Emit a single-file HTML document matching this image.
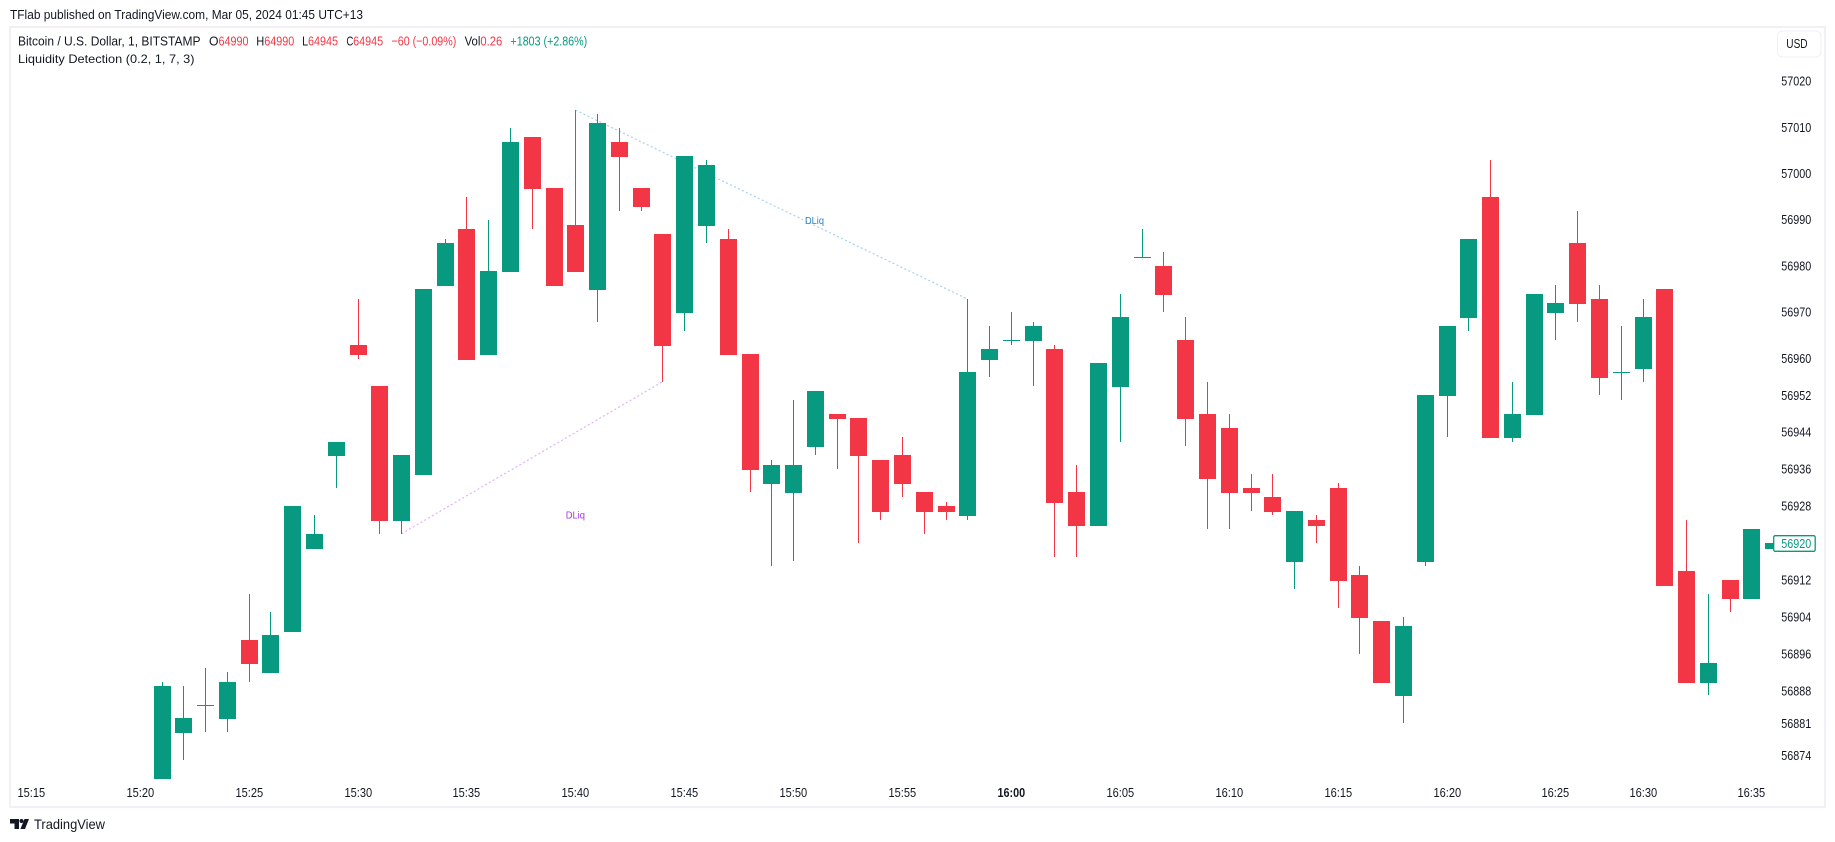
<!DOCTYPE html>
<html lang="en">
<head>
<meta charset="utf-8">
<title>Bitcoin / U.S. Dollar chart</title>
<style>
html,body{margin:0;padding:0;background:#fff;width:1835px;height:842px;overflow:hidden}
svg{display:block;position:absolute;left:0;top:0}
text{font-family:"Liberation Sans",sans-serif;font-size:13px;fill:#131722}
.red{fill:#f23645}
.grn{fill:#089981}
</style>
</head>
<body>
<svg id="chart" width="1835" height="842" viewBox="0 0 1835 842" xmlns="http://www.w3.org/2000/svg">
  <text x="10" y="19" textLength="353" lengthAdjust="spacingAndGlyphs">TFlab published on TradingView.com, Mar 05, 2024 01:45 UTC+13</text>
  <rect x="10" y="27" width="1815" height="780" fill="#fff" stroke="#f0f0f6" stroke-width="2"/>
  <g id="lines"></g>
  <g id="candles"></g>
  <g id="yaxis"></g>
  <g id="xaxis"></g>

  <g>
    <text x="18" y="45.7" textLength="182.5" lengthAdjust="spacingAndGlyphs">Bitcoin / U.S. Dollar, 1, BITSTAMP</text>
    <text x="209" y="45.7" textLength="9.5" lengthAdjust="spacingAndGlyphs">O</text>
    <text class="red" x="218.5" y="45.7" textLength="30" lengthAdjust="spacingAndGlyphs">64990</text>
    <text x="256.3" y="45.7" textLength="8" lengthAdjust="spacingAndGlyphs">H</text>
    <text class="red" x="264.3" y="45.7" textLength="30" lengthAdjust="spacingAndGlyphs">64990</text>
    <text x="302.1" y="45.7" textLength="6" lengthAdjust="spacingAndGlyphs">L</text>
    <text class="red" x="308" y="45.7" textLength="30" lengthAdjust="spacingAndGlyphs">64945</text>
    <text x="346.4" y="45.7" textLength="7" lengthAdjust="spacingAndGlyphs">C</text>
    <text class="red" x="353.1" y="45.7" textLength="30" lengthAdjust="spacingAndGlyphs">64945</text>
    <text class="red" x="391.5" y="45.7" textLength="64.8" lengthAdjust="spacingAndGlyphs">−60 (−0.09%)</text>
    <text x="464.6" y="45.7" textLength="15.8" lengthAdjust="spacingAndGlyphs">Vol</text>
    <text class="red" x="480.4" y="45.7" textLength="21.8" lengthAdjust="spacingAndGlyphs">0.26</text>
    <text class="grn" x="510.5" y="45.7" textLength="76.7" lengthAdjust="spacingAndGlyphs">+1803 (+2.86%)</text>
  </g>
  <text x="18" y="63" style="font-size:12px" textLength="176.5" lengthAdjust="spacingAndGlyphs">Liquidity Detection (0.2, 1, 7, 3)</text>

  <g>
    <rect x="1777.5" y="31" width="43.5" height="26" rx="5" fill="#fff" stroke="#f0f0f6" stroke-width="1"/>
    <text x="1786.3" y="48" textLength="21.3" lengthAdjust="spacingAndGlyphs">USD</text>
  </g>

  <text x="805" y="224" style="font-size:10px;fill:#2a82c2" textLength="19" lengthAdjust="spacingAndGlyphs">DLiq</text>
  <text x="565.7" y="518.5" style="font-size:10px;fill:#a832e6" textLength="19.3" lengthAdjust="spacingAndGlyphs">DLiq</text>

  <g>
    <rect x="1773.7" y="535.7" width="41.5" height="15.6" rx="1.5" fill="#fff" stroke="#089981" stroke-width="1.3"/>
    <text class="grn" x="1781.3" y="548" textLength="30" lengthAdjust="spacingAndGlyphs">56920</text>
  </g>

  <g>
    <path d="M10 819h9v10h-4.5v-5.5H10z" fill="#131722"/>
    <circle cx="21.5" cy="821" r="2" fill="#131722"/>
    <path d="M24.5 819H29l-4 10h-4.6z" fill="#131722"/>
    <text x="34" y="829" style="font-size:14px" textLength="71" lengthAdjust="spacingAndGlyphs">TradingView</text>
  </g>
</svg>

<script>
const open = [56868.9,56878.9,56884.8,56881.9,56899.0,56891.9,56900.7,56918.7,56938.8,56962.9,
56954.0,56924.8,56934.7,56975.6,56988.0,56960.7,56978.7,57007.9,56996.8,56988.8,
56974.8,57006.8,56996.8,56986.9,56969.8,56988.6,56985.8,56960.9,56932.8,56930.8,
56940.8,56947.9,56947.1,56938.0,56939.1,56931.0,56928.0,56925.8,56959.6,56963.7,
56963.7,56962.0,56931.0,56923.7,56953.8,56981.8,56980.0,56963.9,56947.9,56944.9,
56931.9,56930.0,56915.9,56925.0,56931.9,56913.1,56903.1,56886.9,56915.9,56951.8,
56968.7,56994.9,56942.7,56947.7,56969.8,56984.9,56972.8,56956.9,56957.7,56975.0,
56913.9,56889.7,56912.0,56907.9,56918.7];

const high = [56889.9,56889.0,56892.9,56892.1,56909.0,56905.1,56928.0,56926.1,56941.9,56972.8,
56954.0,56939.1,56975.0,56985.8,56994.9,56989.9,57009.8,57007.9,56996.8,57013.7,
57012.9,57009.8,56996.8,56986.9,57003.8,57002.9,56988.0,56960.9,56938.0,56951.0,
56952.9,56947.9,56947.1,56938.0,56942.9,56931.0,56928.9,56972.8,56967.0,56970.0,
56967.8,56962.9,56936.9,56959.0,56973.9,56988.0,56983.0,56968.9,56954.9,56947.9,
56934.9,56934.9,56926.9,56926.1,56933.0,56915.0,56903.1,56904.0,56952.0,56967.0,
56985.8,57002.9,56954.9,56973.9,56975.8,56991.9,56975.8,56967.0,56972.8,56975.0,
56925.0,56909.0,56912.0,56923.0,56920.0];

const low = [56868.9,56873.0,56879.1,56879.1,56889.9,56891.9,56900.7,56918.7,56931.9,56959.8,
56922.0,56922.0,56934.7,56975.6,56959.6,56960.7,56978.7,56988.0,56975.6,56978.7,
56967.8,56991.9,56991.9,56954.9,56965.9,56984.9,56960.7,56931.0,56915.0,56916.1,
56939.1,56936.0,56920.0,56925.0,56930.0,56922.0,56925.0,56925.0,56955.9,56962.9,
56954.0,56917.0,56917.0,56923.7,56941.9,56981.8,56970.0,56941.0,56923.0,56923.0,
56926.9,56926.1,56910.0,56920.0,56905.9,56896.0,56889.7,56881.0,56915.0,56942.9,
56965.9,56942.7,56941.9,56947.7,56963.9,56967.8,56952.0,56951.0,56954.9,56910.7,
56889.7,56887.1,56905.1,56907.9,56918.7];

const close = [56889.0,56882.1,56885.0,56889.9,56893.8,56900.1,56928.0,56922.0,56941.9,56960.7,
56924.8,56939.1,56975.0,56984.9,56959.6,56978.9,57006.8,56996.6,56975.6,56978.7,
57010.9,57003.6,56992.7,56962.6,57003.8,57001.8,56960.7,56935.8,56936.9,56936.9,
56952.9,56946.8,56938.8,56926.7,56932.8,56926.7,56926.7,56957.0,56962.0,56963.9,
56967.0,56928.7,56923.7,56959.0,56968.9,56982.0,56973.7,56946.8,56933.9,56930.8,
56930.8,56926.7,56926.9,56923.7,56911.8,56903.8,56889.7,56902.0,56952.0,56967.0,
56985.8,56942.7,56947.9,56973.9,56972.0,56971.7,56955.7,56957.1,56968.9,56910.7,
56889.7,56894.0,56907.9,56923.0,56920.0];

const priceTicks = [57020,57010,57000,56990,56980,56970,56960,56952,56944,56936,56928,56912,56904,56896,56888,56881,56874];

const timeLabels = ["15:15","15:20","15:25","15:30","15:35","15:40","15:45","15:50","15:55","16:00","16:05","16:10","16:15","16:20","16:25","16:30","16:35"];
const timeBarIndex = [-6,-1,4,9,14,19,24,29,34,39,44,49,54,59,64,68,73];

const liqHighBars = [19,37];
const liqHighPrices = [57013.7,56972.8];
const liqLowBars = [11,23];
const liqLowPrices = [56922.0,56954.9];

const NS = 'http://www.w3.org/2000/svg';
const GREEN = '#089981';
const RED = '#f23645';

function yOf(price){ return 81 + (57020 - price) * 4.62; }
function barLeft(i){ return Math.round(153.5 + 21.78 * i); }
function barCenter(i){ return barLeft(i) + 8.5; }

function make(tag, parent, attrs){
  const el = document.createElementNS(NS, tag);
  for (const k in attrs) el.setAttribute(k, attrs[k]);
  parent.appendChild(el);
  return el;
}

const lineLayer = document.getElementById('lines');

const liqHigh = make('line', lineLayer, {
  x1: barCenter(liqHighBars[0]), y1: yOf(liqHighPrices[0]),
  x2: barCenter(liqHighBars[1]), y2: yOf(liqHighPrices[1]),
  stroke: '#a6d2ec', 'stroke-width': 1.2, 'stroke-dasharray': '2 2.4'
});



const liqLow = make('line', lineLayer, {
  x1: barCenter(liqLowBars[0]), y1: yOf(liqLowPrices[0]),
  x2: barCenter(liqLowBars[1]), y2: yOf(liqLowPrices[1]),
  stroke: '#e2b0fc', 'stroke-width': 1.2, 'stroke-dasharray': '2 2.4'
});



const candleLayer = document.getElementById('candles');
open.forEach(function(o, i){
  const c = close[i];
  const color = c >= o ? GREEN : RED;
  const g = make('g', candleLayer, {'shape-rendering': 'crispEdges'});
  
  
  const left = barLeft(i);
  const wickTop = Math.round(yOf(high[i]));
  const wickBottom = Math.round(yOf(low[i]));
  const wick = make('rect', g, {x: left + 8, y: wickTop, width: 1, height: Math.max(0, wickBottom - wickTop), fill: color});
  
  
  const bodyTop = Math.round(yOf(Math.max(o, c)));
  const bodyBottom = Math.round(yOf(Math.min(o, c)));
  const body = make('rect', g, {x: left, y: bodyTop, width: 17, height: Math.max(1, bodyBottom - bodyTop), fill: color});
  
  
});

const yAxis = document.getElementById('yaxis');
priceTicks.forEach(function(p){
  const t = make('text', yAxis, {x: 1781.3, y: yOf(p) + 4.6, textLength: 30, lengthAdjust: 'spacingAndGlyphs'});
  
  
  t.textContent = String(p);
});

const xAxis = document.getElementById('xaxis');
timeLabels.forEach(function(label, i){
  const t = make('text', xAxis, {x: barCenter(timeBarIndex[i]) - 14, y: 797, textLength: 27.7, lengthAdjust: 'spacingAndGlyphs'});
  if (label === '16:00') t.setAttribute('font-weight', 'bold');
  
  
  t.textContent = label;
});
</script>
</body>
</html>
